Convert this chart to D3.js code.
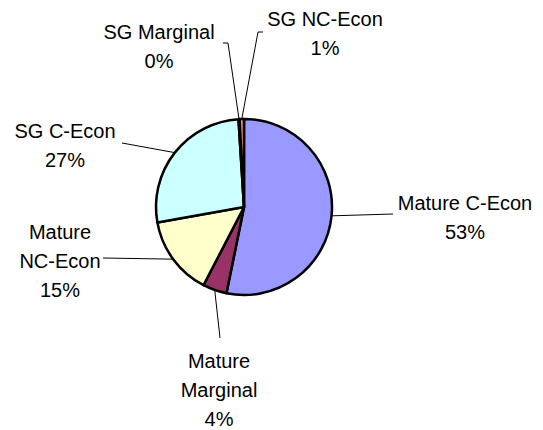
<!DOCTYPE html>
<html>
<head>
<meta charset="utf-8">
<script src="https://cdn.jsdelivr.net/npm/d3@7"></script>
<style>
  body { margin: 0; background: #fff; }
  svg { display: block; }
</style>
</head>
<body>
<div id="chart"></div>
<script>
(function () {

  // Slices, clockwise from 12 o'clock
  const categories = ["Mature C-Econ", "Mature Marginal", "Mature NC-Econ", "SG C-Econ", "SG Marginal", "SG NC-Econ"];
  const values = [53.2, 4.4, 14.6, 26.8, 0.2, 0.8];
  const colors = ["#9999FF", "#993366", "#FFFFCC", "#CCFFFF", "#660066", "#FF8080"];

  // How each label is broken into lines
  const labelLines = [
    ["Mature C-Econ"],
    ["Mature", "Marginal"],
    ["Mature", "NC-Econ"],
    ["SG C-Econ"],
    ["SG Marginal"],
    ["SG NC-Econ"]
  ];

  // Label placement (center x, first baseline) and leader line bend points
  const labelPos = [
    { x: 465, y: 210, leader: [[393, 214]] },
    { x: 219, y: 368, leader: [[220, 338]] },
    { x: 60, y: 239, leader: [[103, 258]] },
    { x: 65, y: 138, leader: [[122, 143]] },
    { x: 159, y: 39, leader: [[228, 43], [223, 43]] },
    { x: 325, y: 26, leader: [[258, 32], [263, 32]] }
  ];

  const width = 543, height = 430;
  const cx = 244, cy = 207, radius = 88;
  const lineHeight = 29;

  const svg = d3.select("#chart")
    .append("svg")
    .attr("width", width)
    .attr("height", height);

  const g = svg.append("g")
    .attr("transform", `translate(${cx}, ${cy})`);

  const data = categories.map((c, i) => ({ category: c, value: values[i], i: i }));
  const total = d3.sum(values);

  const pie = d3.pie()
    .value(d => d.value)
    .sort(null);

  const arcs = pie(data);

  const arc = d3.arc()
    .innerRadius(0)
    .outerRadius(radius);

  // Slices
  g.selectAll("path.slice")
    .data(arcs)
    .enter()
    .append("path")
    .attr("class", "slice")
    .attr("d", arc)
    .attr("fill", d => colors[d.data.i])
    .attr("stroke", "#000")
    .attr("stroke-width", 2.5)
    .attr("stroke-linejoin", "round");

  // Leader lines, starting on the rim at each slice's mid angle
  const line = d3.line();
  arcs.forEach(d => {
    const a = (d.startAngle + d.endAngle) / 2;
    const start = [cx + radius * Math.sin(a), cy - radius * Math.cos(a)];
    const pts = [start].concat(labelPos[d.data.i].leader);
    svg.append("path")
      .attr("d", line(pts))
      .attr("fill", "none")
      .attr("stroke", "#000")
      .attr("stroke-width", 1);
  });

  // Labels
  const pct = d3.format(".0%");
  arcs.forEach(d => {
    const p = labelPos[d.data.i];
    const lines = labelLines[d.data.i].concat([pct(Math.round(d.data.value / total * 100) / 100)]);
    const t = svg.append("text")
      .attr("text-anchor", "middle")
      .style("font-family", "'Liberation Sans', Arial, sans-serif")
      .style("font-size", "20px")
      .style("fill", "#000");
    lines.forEach((s, k) => {
      t.append("tspan")
        .attr("x", p.x)
        .attr("y", p.y + k * lineHeight)
        .text(s);
    });
  });

})();
</script>
</body>
</html>
